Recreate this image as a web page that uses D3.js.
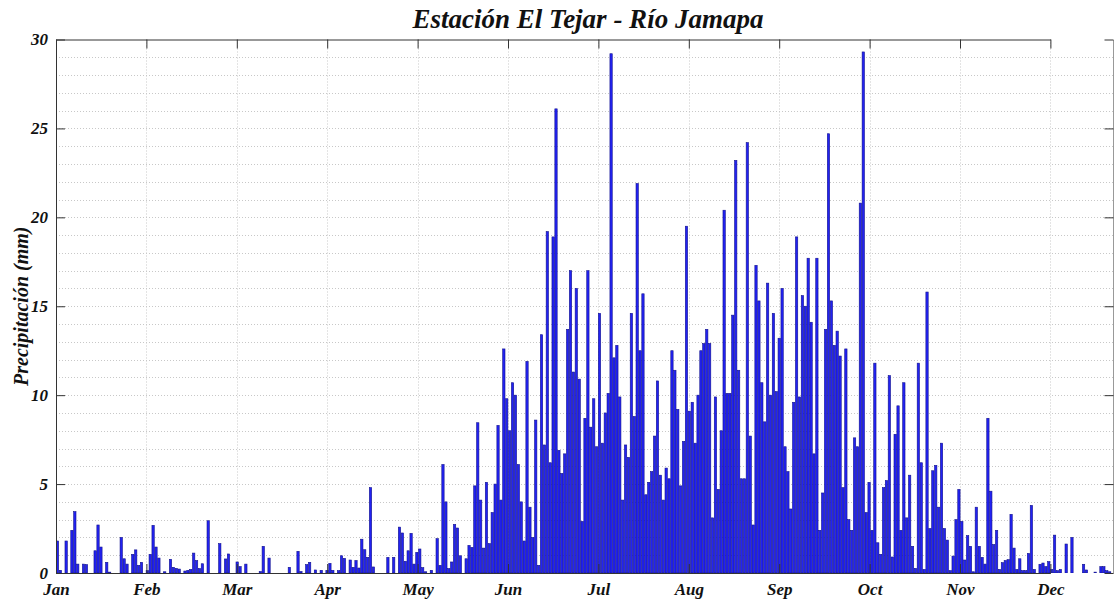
<!DOCTYPE html>
<meta charset="utf-8">
<style>
body { margin: 0; background: #fff; }
svg { display: block; }
.tick text, .lbl {
  font-family: "Liberation Serif", "Times New Roman", serif;
  font-weight: bold;
  font-style: italic;
  fill: #111;
}
.grid line { stroke: #c8c8c8; stroke-width: 1; stroke-dasharray: 1,2; }
.axis path, .axis line { stroke: #333; }
.bar { fill: #2222f2; stroke: #12128c; stroke-width: 0.6; }
</style>
<svg width="1114" height="601"></svg>

<script src="https://cdn.jsdelivr.net/npm/d3@7"></script>
<script>

// daily precipitation (mm), one array per month
var jan = [1.8,0.15,0,1.8,0,2.4,3.45,0.5,0,0.5,0.47,0,0,1.25,2.7,1.46,0,0.6,0.05,0,0,0,2.0,0.8,0.5,0,1.05,1.3,0.43,0.6,0];
var feb = [0.13,1.05,2.68,1.46,0.84,0,0.07,0,0.77,0.32,0.26,0.22,0,0.11,0.15,0.2,1.12,0.7,0.25,0.52,0,2.94,0,0,0,1.65,0,0.79];
var mar = [1.07,0,0,0.62,0.36,0,0.5,0,0,0,0,0.08,1.5,0,0.84,0,0,0,0,0,0,0.32,0,0,1.22,0.08,0,0.47,0.6,0,0.17];
var apr = [0,0.15,0,0.15,0.54,0.15,0,0.13,0.97,0.82,0,0.73,0.32,0.7,0.28,1.9,1.31,0.88,4.8,0.34,0,0,0,0,0.88,0,0.88,0,2.58,2.25];
var may = [0.66,1.25,2.23,0.5,1.16,1.35,0.3,0.07,0,0.15,0,1.93,0.43,6.1,4.0,0.25,0.62,2.73,2.53,0.97,0,0.8,1.55,1.44,4.9,8.45,4.1,1.4,5.1,1.65,3.4];
var jun = [5.0,8.3,4.1,12.6,9.8,8.0,10.7,10.0,6.1,4.0,1.8,11.9,3.7,2.0,8.6,0.43,13.4,7.2,19.2,6.2,18.9,26.1,6.9,5.6,6.7,13.7,17.0,11.3,16.0,10.9];
var jul = [2.9,8.7,17.0,8.2,9.8,7.1,14.6,7.3,9.0,10.1,29.2,12.1,12.8,9.9,4.1,7.2,6.5,14.6,8.8,21.9,12.5,15.7,4.4,5.1,5.7,7.7,10.8,5.5,4.1,5.9,5.3];
var aug = [12.5,11.4,9.2,4.9,7.4,19.5,9.1,9.6,7.3,10.0,12.5,12.9,13.7,12.9,3.1,9.9,4.7,8.0,20.4,10.1,10.1,14.5,23.2,11.4,5.3,5.3,24.2,7.7,2.7,17.3,15.3];
var sep = [10.7,8.5,16.3,10.0,14.6,10.2,13.2,16.0,7.1,5.7,3.6,9.6,18.9,9.9,15.6,15.0,17.7,14.1,6.7,17.7,2.4,4.5,13.7,24.7,15.3,12.8,13.6,12.2,4.8,12.6];
var oct = [3.0,2.4,7.6,7.1,20.8,29.3,3.4,5.1,2.4,11.8,1.7,1.05,4.8,5.2,11.1,0.9,7.8,9.4,2.4,10.7,3.1,5.5,1.5,0.26,11.8,6.2,0.2,15.8,2.5,5.75,6.05];
var nov = [3.7,7.3,2.5,1.85,0.13,0.95,3.0,4.7,2.9,0.73,2.1,1.5,0.07,3.7,1.5,0.88,0.5,8.7,4.6,1.6,2.4,0.2,0.58,0.7,0.75,3.3,1.4,0.2,0.8,0.13];
var dec = [0.13,1.1,3.8,0.2,0,0.49,0.56,0.36,0.64,0.2,2.13,0.13,0.2,0,1.63,0,2.0,0,0,0,0.49,0.17,0,0,0.05,0,0.36,0.36,0.13,0.07,0];

var months = ["Jan","Feb","Mar","Apr","May","Jun","Jul","Aug","Sep","Oct","Nov","Dec"];
var yTicks = [0, 5, 10, 15, 20, 25, 30];

var rain = [].concat(jan, feb, mar, apr, may, jun, jul, aug, sep, oct, nov, dec)
  .map(function(v, i) { return {day: i, mm: v}; })
  .filter(function(d) { return d.mm > 0; });

var svg = d3.select("svg"),
    x0 = 56, x1 = 1113.5, y0 = 39.5, y1 = 573;

var x = d3.scaleLinear().domain([0, 365]).range([x0, 1114]);
var mx = d3.scalePoint().domain(months).range([x0, x0 + 11 * 90.4]);
var y = d3.scaleLinear().domain([0, 30]).range([y1, y0]);

// dotted grid: every mm horizontally, every month tick vertically
svg.append("g").attr("class", "grid")
  .selectAll("line").data(d3.range(1, 30))
  .enter().append("line")
    .attr("x1", x0).attr("x2", x1)
    .attr("y1", function(d) { return Math.round(y(d)) + 0.5; })
    .attr("y2", function(d) { return Math.round(y(d)) + 0.5; });
svg.append("g").attr("class", "grid")
  .selectAll("line").data(months.slice(1))
  .enter().append("line")
    .attr("x1", function(d) { return Math.round(mx(d)) + 0.5; })
    .attr("x2", function(d) { return Math.round(mx(d)) + 0.5; })
    .attr("y1", y0).attr("y2", y1);

svg.append("clipPath").attr("id", "plot")
  .append("rect").attr("x", x0).attr("y", y0)
  .attr("width", x1 - x0).attr("height", y1 - y0);

var bw = (x(1) - x(0)) * 0.8;
svg.append("g").attr("clip-path", "url(#plot)")
  .selectAll(".bar").data(rain)
  .enter().append("rect")
    .attr("class", "bar")
    .attr("x", function(d) { return x(d.day + 0.5) - bw / 2; })
    .attr("y", function(d) { return y(d.mm); })
    .attr("width", bw)
    .attr("height", function(d) { return y1 - y(d.mm); });

// box with inward ticks on all four sides
svg.append("g").attr("class", "axis")
  .attr("transform", "translate(0," + y1 + ")")
  .call(d3.axisBottom(mx).tickSize(-9).tickSizeOuter(0).tickPadding(10))
  .selectAll("text").style("font-size", "17px");
svg.append("g").attr("class", "axis")
  .attr("transform", "translate(0," + y0 + ")")
  .call(d3.axisTop(mx).tickSize(-9).tickSizeOuter(0).tickFormat(""));
svg.append("g").attr("class", "axis")
  .attr("transform", "translate(" + x0 + ",0)")
  .call(d3.axisLeft(y).tickValues(yTicks).tickSize(-9).tickSizeOuter(0).tickPadding(8))
  .selectAll("text").style("font-size", "17px");
svg.append("g").attr("class", "axis")
  .attr("transform", "translate(" + x1 + ",0)")
  .call(d3.axisRight(y).tickValues(yTicks).tickSize(-9).tickSizeOuter(0).tickFormat(""));

svg.append("text")
    .attr("class", "lbl")
    .attr("x", 588)
    .attr("y", 28)
    .attr("text-anchor", "middle")
    .style("font-size", "27px")
    .text("Estación El Tejar - Río Jamapa");

svg.append("text")
    .attr("class", "lbl")
    .attr("transform", "translate(28," + ((y0 + y1) / 2) + ") rotate(-90)")
    .attr("text-anchor", "middle")
    .style("font-size", "20px")
    .text("Precipitación (mm)");

</script>
